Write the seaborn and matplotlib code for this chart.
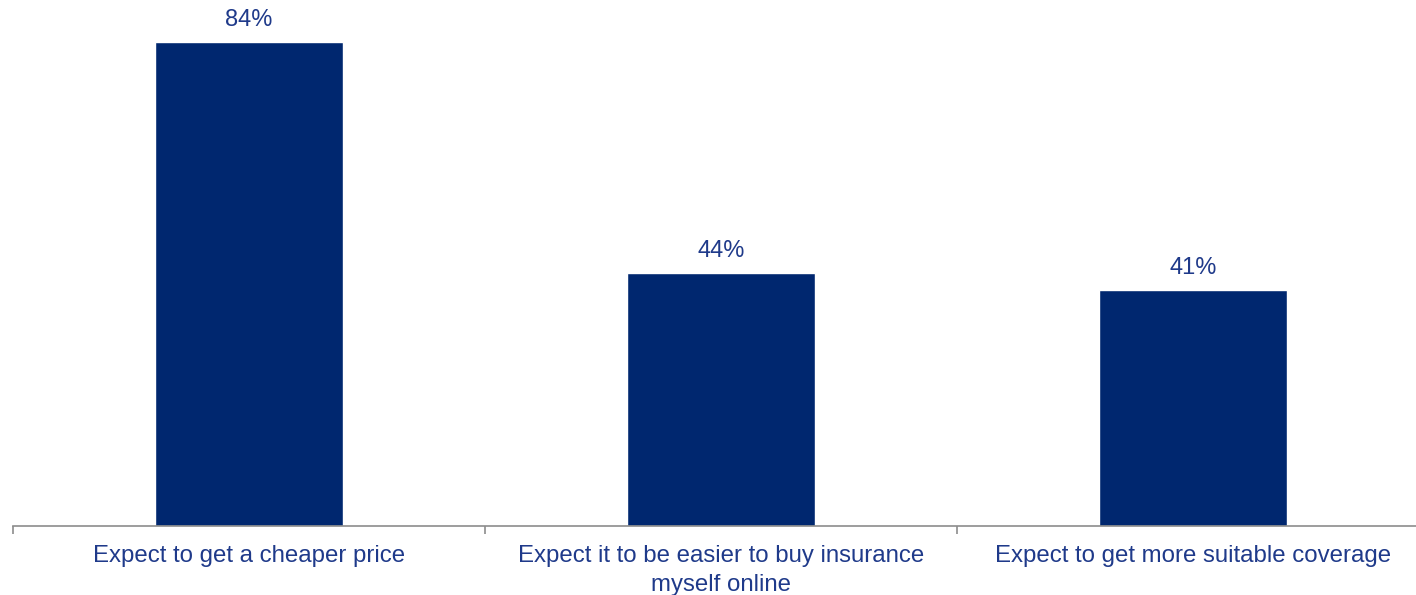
import pandas as pd
import matplotlib
matplotlib.use("Agg")
import matplotlib.pyplot as plt
import seaborn as sns

sns.set_style("white")
plt.rcParams['font.family'] = ['Liberation Sans', 'DejaVu Sans']

categories = [
    "Expect to get a cheaper price",
    "Expect it to be easier to buy insurance\nmyself online",
    "Expect to get more suitable coverage",
]
values = [84, 44, 41]

df = pd.DataFrame({"reason": categories, "pct": values})

bar_color = "#00276F"
text_color = "#1F3A8A"

fig = plt.figure(figsize=(14.16, 5.95), dpi=100)
ax = fig.add_axes([13 / 1416, 69 / 595, 1416 / 1416, 526 / 595])

sns.barplot(data=df, x="reason", y="pct", color=bar_color, width=0.4,
            saturation=1, ax=ax)

ax.set_xlim(-0.5, 2.5)
ax.set_ylim(0, 91.3)

for i, v in enumerate(values):
    ax.text(i, v + 1.9, f"{v}%", ha="center", va="bottom",
            fontsize=17, color=text_color)

ax.set_xlabel("")
ax.set_ylabel("")
ax.set_yticks([])
ax.set_xticks(range(len(categories)))
ax.set_xticklabels(categories, fontsize=17.3, color=text_color,
                   linespacing=1.4)
ax.tick_params(axis="x", which="major", length=0, pad=14)
ax.set_xticks([-0.5, 0.5, 1.5, 2.5], minor=True)
ax.tick_params(axis="x", which="minor", bottom=True, length=6, width=1.2,
               color="#8c8c8c", direction="out")

for side in ["top", "right", "left"]:
    ax.spines[side].set_visible(False)
ax.spines["bottom"].set_color("#8c8c8c")
ax.spines["bottom"].set_linewidth(1.2)

fig.savefig("out.png", dpi=100)
plt.close(fig)
